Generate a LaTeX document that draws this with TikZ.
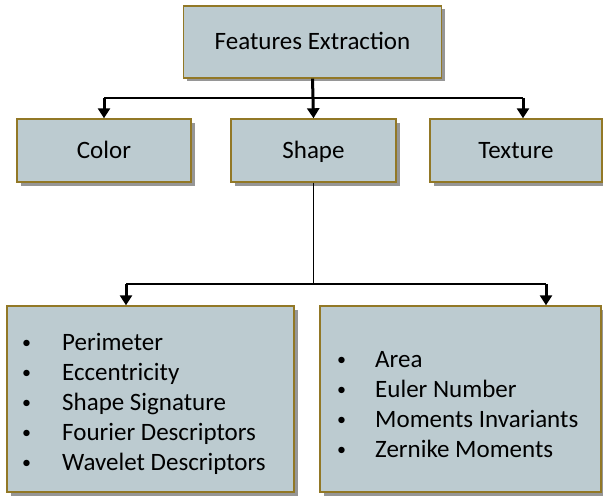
\documentclass[tikz,border=0pt]{standalone}
\usepackage{fontspec}
\setmainfont{Carlito}
\usetikzlibrary{arrows.meta,shadows}

\definecolor{boxfill}{RGB}{188,203,208}
\definecolor{boxedge}{RGB}{146,120,38}
\definecolor{boxshade}{RGB}{150,150,150}

\tikzset{
  featbox/.style={
    draw=boxedge, line width=1.4pt, fill=boxfill, rectangle,
    inner sep=0pt, font=\fontsize{25}{30}\selectfont,
    text height=16pt, text depth=0pt,
    drop shadow={shadow xshift=3.5pt, shadow yshift=-3.5pt, fill=boxshade, opacity=1}
  },
  bus/.style={draw=black, line width=1.6pt},
  thinlink/.style={draw=black, line width=1pt},
  feed/.style={draw=black, line width=3pt, -{Triangle[width=12pt,length=10pt]}},
  itemlist/.style={inner sep=0pt, align=left, anchor=west, font=\fontsize{25}{30}\selectfont}
}

% a small bullet followed by the item text at a fixed indent
\newcommand{\bulletitem}[2]{\makebox[#1][l]{\raisebox{2pt}{\fontsize{18}{18}\selectfont\textbullet}}#2}

\begin{document}
\begin{tikzpicture}[x=1pt, y=-1pt]
  \useasboundingbox (0,0) rectangle (603,503);

  % boxes
  \node[featbox, minimum width=258pt, minimum height=72pt] (top) at (312.5,42) {Features Extraction};
  \node[featbox, minimum width=174pt, minimum height=63pt] (color) at (104,150.5) {Color};
  \node[featbox, minimum width=165pt, minimum height=63pt] (shape) at (313.5,150.5) {Shape};
  \node[featbox, minimum width=172pt, minimum height=63pt] (texture) at (516,150.5) {Texture};
  \node[featbox, minimum width=287pt, minimum height=186pt] (lbox) at (150.5,399) {};
  \node[featbox, minimum width=281pt, minimum height=186pt] (rbox) at (460.5,399) {};

  % bullet lists
  \node[itemlist] (llist) at (22,404) {%
    \bulletitem{40pt}{Perimeter}\\
    \bulletitem{40pt}{Eccentricity}\\
    \bulletitem{40pt}{Shape Signature}\\
    \bulletitem{40pt}{Fourier Descriptors}\\
    \bulletitem{40pt}{Wavelet Descriptors}};
  \node[itemlist] (rlist) at (337,404.5) {%
    \bulletitem{38pt}{Area}\\
    \bulletitem{38pt}{Euler Number}\\
    \bulletitem{38pt}{Moments Invariants}\\
    \bulletitem{38pt}{Zernike Moments}};

  % upper distribution
  \coordinate (busA) at (104,98);
  \coordinate (busB) at (523,98);
  \draw[bus] (busA) -- (busB);
  \draw[feed] (top.south) -- (shape.north);
  \draw[feed] (busA) -- (busA |- color.north);
  \draw[feed] (busB) -- (busB |- texture.north);

  % lower distribution
  \coordinate (busC) at (126,284);
  \coordinate (busD) at (546,284);
  \draw[thinlink] (shape.south) -- (shape.south |- busC);
  \draw[bus] (busC) -- (busD);
  \draw[feed] (busC) -- (busC |- lbox.north);
  \draw[feed] (busD) -- (busD |- rbox.north);
\end{tikzpicture}
\end{document}
